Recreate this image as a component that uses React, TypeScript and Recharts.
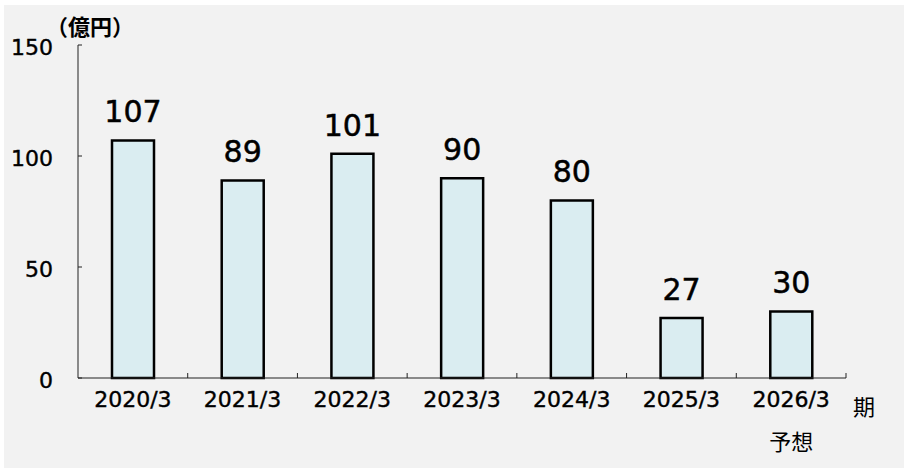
import React from 'react';
import { BarChart, Bar, XAxis, YAxis, LabelList } from 'recharts';

const periods = ['2020/3', '2021/3', '2022/3', '2023/3', '2024/3', '2025/3', '2026/3'];
const values = [107, 89, 101, 90, 80, 27, 30];
const subLabels = ['', '', '', '', '', '', '予想'];
const yTicks = [0, 50, 100, 150];

const data = periods.map((p, i) => ({ period: p, value: values[i], sub: subLabels[i] }));

const FONT = "'DejaVu Sans', 'Noto Sans CJK JP', sans-serif";
const HALF_BAND = 768 / 7 / 2;

const YTick = (props: any) => {
  const { x, y, payload } = props;
  return (
    <g>
      <line x1={x + 25} x2={x + 29} y1={y} y2={y} stroke="#222" strokeWidth={1} />
      <text x={x} y={y} dy={10} textAnchor="end" fontSize={22} fill="#000" stroke="#000" strokeWidth={0.4} fontFamily={FONT}>
        {payload.value}
      </text>
    </g>
  );
};

const XTick = (props: any) => {
  const { x, y, payload, index } = props;
  const sub = subLabels[index];
  return (
    <g>
      <line x1={x + HALF_BAND} x2={x + HALF_BAND} y1={y} y2={y - 5} stroke="#222" strokeWidth={1} />
      <text x={x} y={y} dy={29} textAnchor="middle" fontSize={22} fill="#000" stroke="#000" strokeWidth={0.4} fontFamily={FONT}>
        {payload.value}
      </text>
      {sub ? (
        <text x={x} y={y} dy={72} textAnchor="middle" fontSize={22} fill="#000" fontFamily={FONT}>
          {sub}
        </text>
      ) : null}
    </g>
  );
};

export default function App() {
  return (
    <div style={{ position: 'absolute', left: 0, top: 0, width: 904, height: 468, background: '#fff', fontFamily: FONT }}>
      <div style={{ position: 'absolute', left: 4, top: 5, width: 900, height: 463, background: '#f2f2f2' }} />
      <div style={{ position: 'absolute', left: 0, top: 0 }}>
        <BarChart
          width={904}
          height={468}
          data={data}
          margin={{ top: 45, right: 58, bottom: 0, left: 0 }}
        >
          <XAxis
            dataKey="period"
            height={90}
            tickSize={0}
            tickMargin={0}
            tick={<XTick />}
            axisLine={{ stroke: '#222', strokeWidth: 1 }}
            interval={0}
          />
          <YAxis
            width={78}
            domain={[0, 150]}
            ticks={yTicks}
            tickSize={0}
            tickMargin={25}
            tick={<YTick />}
            axisLine={{ stroke: '#222', strokeWidth: 1 }}
            interval={0}
          />
          <Bar dataKey="value" barSize={42} fill="#daedf1" stroke="#000" strokeWidth={2.5} isAnimationActive={false}>
            <LabelList dataKey="value" position="top" offset={18} fontSize={30} fill="#000" stroke="#000" strokeWidth={0.5} fontFamily={FONT} />
          </Bar>
        </BarChart>
      </div>
      <div style={{ position: 'absolute', left: 46, top: 10, fontSize: 22, fontWeight: 'bold', color: '#000', fontFamily: "'Noto Sans CJK JP', sans-serif", lineHeight: '30px' }}>
        （億円）
      </div>
      <div style={{ position: 'absolute', left: 853, top: 390, fontSize: 22, color: '#000', fontFamily: "'Noto Sans CJK JP', sans-serif", lineHeight: '30px' }}>
        期
      </div>
    </div>
  );
}
